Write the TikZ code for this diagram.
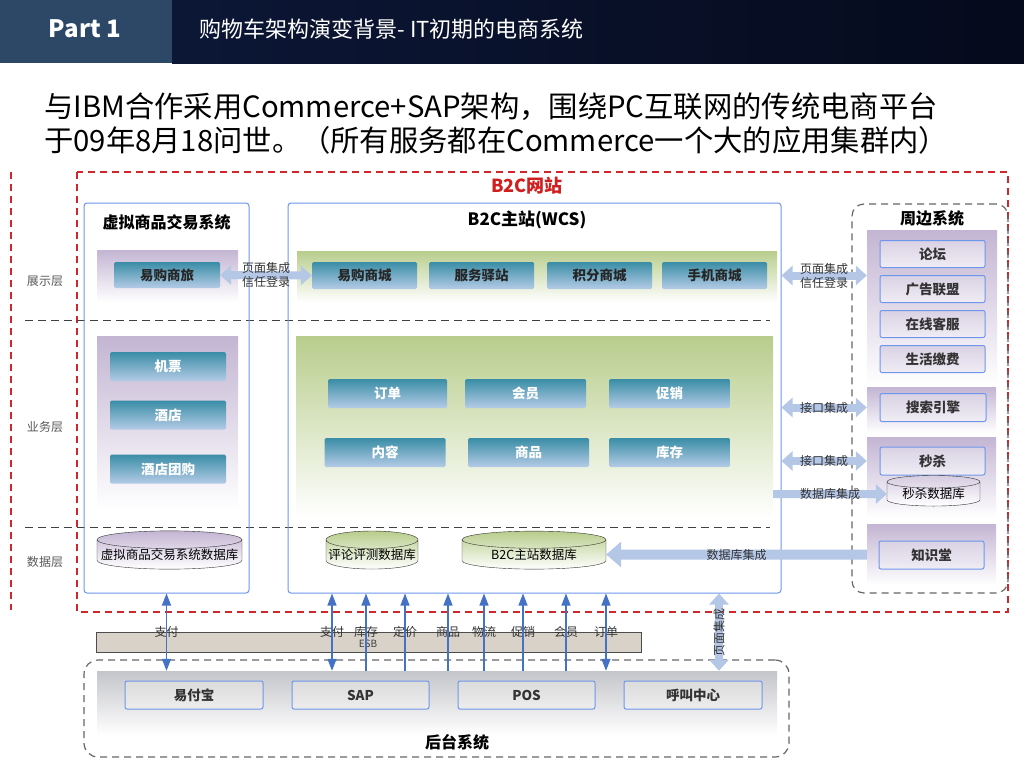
\documentclass[tikz,border=0pt]{standalone}
\usepackage{fontspec}
\setmainfont{Noto Sans CJK SC}
\usetikzlibrary{shapes.geometric,arrows.meta,positioning}
\newcommand\fsz[1]{\fontsize{#1}{#1}\selectfont}
\definecolor{hdrblue}{HTML}{2C4866}
\definecolor{hdrdark}{HTML}{0C1736}
\definecolor{hdrdark2}{HTML}{050A1C}
\definecolor{redline}{HTML}{D0262C}
\definecolor{b2cred}{HTML}{D01F1F}
\definecolor{edgeblue}{HTML}{6E96EC}
\definecolor{tealtop}{HTML}{3A8DA6}
\definecolor{tealbot}{HTML}{B4CBE6}
\definecolor{lavtop}{HTML}{C3B5D3}
\definecolor{greentop}{HTML}{B8CD8C}
\definecolor{fatblue}{HTML}{B4C7E7}
\definecolor{linkblue}{HTML}{4472C4}
\definecolor{esbfill}{HTML}{D8D2C8}
\definecolor{greytop}{HTML}{C4C5CA}
\definecolor{sysfill}{HTML}{D9D2E4}
\begin{document}
\begin{tikzpicture}[x=1pt,y=-1pt,
    lay/.style={text=black!65,font=\fsz{12}},
    sect/.style={draw=edgeblue,line width=1pt,rounded corners=3pt},
    head/.style={font=\fsz{16}\bfseries},
    panelp/.style={top color=lavtop,bottom color=white},
    panelg/.style={top color=greentop,bottom color=white},
    tbox/.style={rounded corners=1.5pt,top color=tealtop,bottom color=tealbot,font=\fsz{13.5}\bfseries,text=black!85},
    wbox/.style={tbox,text=white},
    sbox/.style={draw=edgeblue,line width=1pt,rounded corners=2pt,top color=sysfill,bottom color=sysfill!40,font=\fsz{13.5}\bfseries,text=black!80},
    gbox/.style={sbox,top color=black!14,bottom color=black!7},
    db/.style={cylinder,shape border rotate=90,aspect=.2,draw=black!80,font=\fsz{12.5},inner sep=0pt},
    fat/.style={draw=fatblue,line width=8pt,>={Triangle[width=19pt,length=11pt]}},
    fatbig/.style={draw=fatblue,line width=10pt,>={Triangle[width=25pt,length=15pt]}},
    thin/.style={draw=linkblue,line width=1.2pt,>={Triangle[width=9pt,length=12pt]}},
    lbl/.style={font=\fontsize{12}{14}\selectfont,text=black!80,align=center,inner sep=0pt},
    dashln/.style={line width=1.2pt,dash pattern=on 7pt off 5pt}]
\useasboundingbox (0,0) rectangle (1024,768);
\fill[white] (0,0) rectangle (1024,768);
\shade[left color=hdrdark,right color=hdrdark2] (172,0) rectangle (1024,63);
\fill[hdrblue] (0,0) rectangle (172,63);
\node[text=white,font=\fsz{24}\bfseries] (part) at (85,29) {Part 1};
\node[text=white,font=\fsz{22},anchor=west] (ptitle) at (196,29) {购物车架构演变背景- IT初期的电商系统};
\node[font=\fsz{29.3},anchor=west,inner sep=0pt] (line1) at (44,107) {与IBM合作采用Commerce+SAP架构，围绕PC互联网的传统电商平台};
\node[font=\fsz{29.3},anchor=west,inner sep=0pt] (line2) at (44,140) {于09年8月18问世。（所有服务都在Commerce一个大的应用集群内）};

\draw[redline,dashln] (11,172) -- (11,610);
\draw[redline,dashln] (77,172) rectangle (1008,612);
\node[text=b2cred,font=\fsz{18}\bfseries] (b2c) at (527,186) {B2C网站};

\draw[black!75,line width=1pt,dash pattern=on 8pt off 5pt] (25,320) -- (770,320);
\draw[black!75,line width=1pt,dash pattern=on 8pt off 5pt] (25,527) -- (770,527);
\node[lay] (zsc) at (45,281) {展示层};
\node[lay] (ywc) at (45,427) {业务层};
\node[lay] (sjc) at (45,562) {数据层};

\node[sect,minimum width=165pt,minimum height=390pt] (vsys) at (166.5,398) {};
\node[head] (vsyst) at (166.5,222) {虚拟商品交易系统};
\node[panelp,minimum width=141pt,minimum height=52pt] (vp1) at (167.5,276) {};
\node[tbox,minimum width=106pt,minimum height=26pt] (yslv) at (167,275) {易购商旅};
\node[panelp,minimum width=141pt,minimum height=174pt] (vp2) at (167.5,423) {};
\node[wbox,minimum width=116pt,minimum height=29pt] (jp) at (168,366.5) {机票};
\node[wbox,minimum width=116pt,minimum height=29pt] (jd) at (168,415) {酒店};
\node[wbox,minimum width=116pt,minimum height=29pt] (jdtg) at (168,469) {酒店团购};
\node[db,top color=lavtop,bottom color=white,minimum width=145pt,minimum height=38pt] (vdb) at (169.5,554.5) {\makebox[88pt]{虚拟商品交易系统数据库}};

\node[sect,minimum width=493pt,minimum height=390pt] (wcs) at (534.5,398) {};
\node[font=\fsz{17}\bfseries] (wcst) at (527,220) {B2C主站(WCS)};
\node[panelg,minimum width=480pt,minimum height=51pt] (gp1) at (537,276.5) {};
\node[tbox,minimum width=105pt,minimum height=27pt] (ygsc) at (364.5,275.5) {易购商城};
\node[tbox,minimum width=105pt,minimum height=27pt] (fwyz) at (481.5,275.5) {服务驿站};
\node[tbox,minimum width=105pt,minimum height=27pt] (jfsc) at (599.5,275.5) {积分商城};
\node[tbox,minimum width=105pt,minimum height=27pt] (sjsc) at (714.5,275.5) {手机商城};
\node[panelg,minimum width=477pt,minimum height=182pt] (gp2) at (534.5,427) {};
\node[wbox,minimum width=119pt,minimum height=29pt] (dd) at (387.5,393.5) {订单};
\node[wbox,minimum width=121pt,minimum height=29pt] (hy) at (525.5,393.5) {会员};
\node[wbox,minimum width=121pt,minimum height=29pt] (cx) at (669.5,393.5) {促销};
\node[wbox,minimum width=121pt,minimum height=29pt] (nr) at (385,452.5) {内容};
\node[wbox,minimum width=121pt,minimum height=29pt] (sp) at (528.5,452.5) {商品};
\node[wbox,minimum width=121pt,minimum height=29pt] (kc) at (669.5,452.5) {库存};
\node[db,top color=greentop,bottom color=white,minimum width=92pt,minimum height=38pt] (pcdb) at (372,554.5) {评论评测数据库};
\node[db,top color=greentop,bottom color=white,minimum width=144pt,minimum height=38pt] (b2cdb) at (534,554.5) {B2C主站数据库};

\node[draw=black!60,dashln,rounded corners=12pt,minimum width=156pt,minimum height=389pt] (zb) at (930,398.5) {};
\node[head] (zbt) at (932,218) {周边系统};
\node[panelp,minimum width=130pt,minimum height=155pt] (zp1) at (932,307.5) {};
\node[sbox,minimum width=105pt,minimum height=27pt] (lt) at (932.5,254) {论坛};
\node[sbox,minimum width=105pt,minimum height=27pt] (gglm) at (932.5,289) {广告联盟};
\node[sbox,minimum width=105pt,minimum height=27pt] (zxkf) at (932.5,324) {在线客服};
\node[sbox,minimum width=105pt,minimum height=27pt] (shjf) at (932.5,359) {生活缴费};
\node[panelp,minimum width=129pt,minimum height=46pt] (zp2) at (931.5,410) {};
\node[sbox,minimum width=106pt,minimum height=28pt] (ssyq) at (933,407.5) {搜索引擎};
\node[panelp,minimum width=129pt,minimum height=81pt] (zp3) at (931.5,477.5) {};
\node[sbox,minimum width=105pt,minimum height=28pt] (msha) at (932.5,461) {秒杀};
\node[db,top color=lavtop!70,bottom color=white,minimum width=93pt,minimum height=28pt] (msdb) at (933.5,494) {秒杀数据库};
\node[panelp,minimum width=129pt,minimum height=61pt] (zp4) at (931.5,554.5) {};
\node[sbox,minimum width=105pt,minimum height=28pt] (zst) at (931.5,555) {知识堂};

\node[fill=esbfill,draw=black!70,line width=.8pt,minimum width=545pt,minimum height=20pt] (esb) at (368.5,642) {};
\node[font=\fsz{10},text=black!75] (esbt) at (368,644) {ESB};
\node[draw=black!60,dashln,rounded corners=14pt,minimum width=705pt,minimum height=97pt] (ht) at (436.5,708.5) {};
\node[top color=greytop,bottom color=white,minimum width=680pt,minimum height=64pt] (bp) at (437,703) {};
\node[gbox,minimum width=138pt,minimum height=28pt] (yfb) at (194,695) {易付宝};
\node[gbox,minimum width=137pt,minimum height=28pt] (sap) at (360.5,695) {SAP};
\node[gbox,minimum width=137pt,minimum height=28pt] (pos) at (526.5,695) {POS};
\node[gbox,minimum width=138pt,minimum height=28pt] (hjzx) at (693,695) {呼叫中心};
\node[head] (htt) at (457,742) {后台系统};

\draw[fat,<->] (yslv.east) -- (ygsc.west) node[lbl,midway] {页面集成\\信任登录};
\draw[fat,<->] (wcs.east |- sjsc) -- (zp1.west |- sjsc) node[lbl,midway] {页面集成\\信任登录};
\draw[fat,<->] (wcs.east |- ssyq) -- (zp2.west |- ssyq) node[lbl,midway] {接口集成};
\draw[fat,<->] (wcs.east |- msha) -- (zp3.west |- msha) node[lbl,midway] {接口集成};
\draw[fat,->] (gp2.east |- msdb) -- (msdb.west) node[lbl,midway] {数据库集成};
\draw[fatbig,->] (zp4.west |- b2cdb) -- (b2cdb.east) node[lbl,midway] {数据库集成};

\draw[thin,<->] (vsys.south) -- (vsys.south |- bp.north) node[lbl,midway] {支付};
\draw[thin,<->] (332,0 |- wcs.south) -- (332,0 |- bp.north) node[lbl,midway] {支付};
\draw[thin,->] (366,0 |- bp.north) -- (366,0 |- wcs.south) node[lbl,midway] {库存};
\draw[thin,->] (405,0 |- bp.north) -- (405,0 |- wcs.south) node[lbl,midway] {定价};
\draw[thin,->] (448,0 |- bp.north) -- (448,0 |- wcs.south) node[lbl,midway] {商品};
\draw[thin,->] (484,0 |- bp.north) -- (484,0 |- wcs.south) node[lbl,midway] {物流};
\draw[thin,->] (523,0 |- bp.north) -- (523,0 |- wcs.south) node[lbl,midway] {促销};
\draw[thin,->] (566,0 |- bp.north) -- (566,0 |- wcs.south) node[lbl,midway] {会员};
\draw[thin,<->] (606,0 |- wcs.south) -- (606,0 |- bp.north) node[lbl,midway] {订单};
\draw[fat,<->] (719,0 |- wcs.south) -- (719,0 |- bp.north) node[lbl,midway,rotate=90] {页面集成};
\end{tikzpicture}
\end{document}
